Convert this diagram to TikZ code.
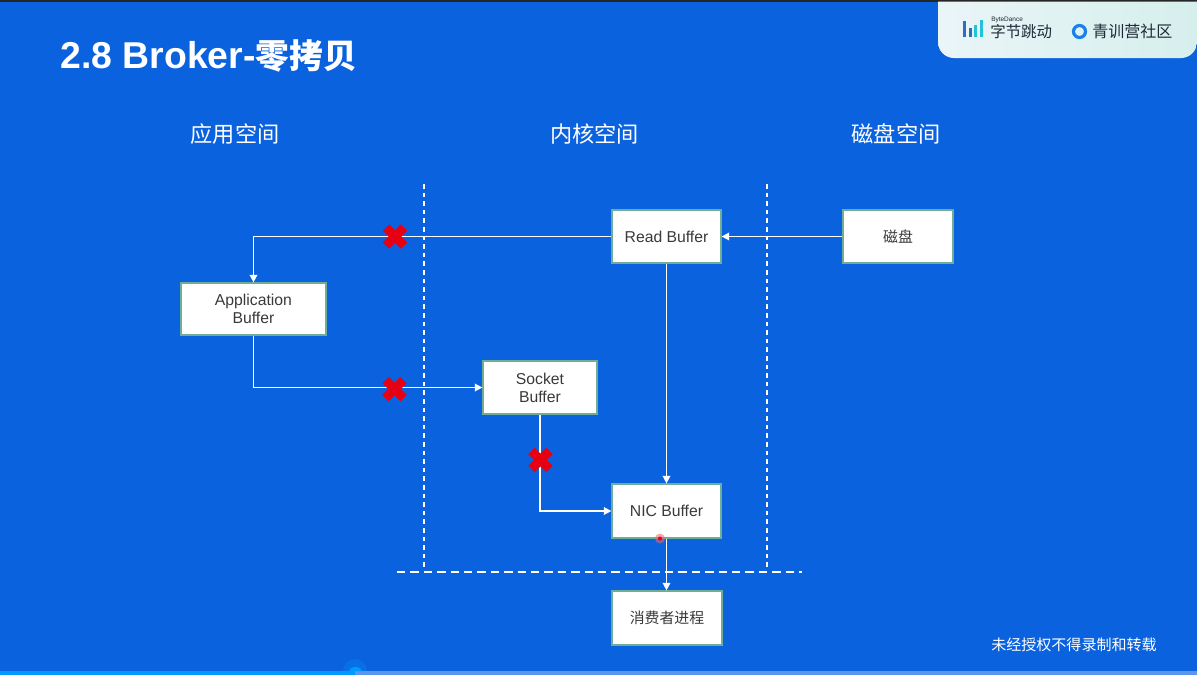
\documentclass[tikz,border=0pt]{standalone}
\usepackage{fontspec}
\setmainfont{Liberation Sans}
\newfontfamily\cjk{Noto Sans CJK SC}
\usetikzlibrary{arrows.meta,positioning,shapes.misc}
\definecolor{bgblue}{HTML}{0B62DE}
\definecolor{ink}{HTML}{3A3A3A}
\definecolor{edge}{HTML}{6FAE94}
\definecolor{xred}{HTML}{E60012}
\definecolor{barcyan}{HTML}{0099FF}
\definecolor{barpale}{HTML}{5A96EA}
\definecolor{logoink}{HTML}{1F2A38}
\definecolor{logoblue}{HTML}{1D7FE8}
\definecolor{logobar}{HTML}{2C6FC0}
\definecolor{logocyan}{HTML}{22C3D6}
\definecolor{panela}{HTML}{EAF5F8}
\definecolor{panelb}{HTML}{D6EFEC}
\tikzset{
  >={Triangle[length=1.9mm,width=1.9mm]},
  bx/.style={draw=edge,fill=white,line width=0.3mm,align=center,inner sep=0pt,text=ink,
    font=\fontsize{11.2}{12.9}\selectfont},
  bxc/.style={bx,font=\fontsize{10.6}{12.9}\selectfont\cjk},
  arr/.style={->,draw=white,line width=0.38mm},
  split/.style={draw=white,line width=0.28mm,dash pattern=on 1.15mm off 1mm},
  splith/.style={draw=white,line width=0.28mm,dash pattern=on 2.1mm off 1.25mm},
  head/.style={text=white,font=\fontsize{15.8}{18}\selectfont\cjk},
  xmark/.style={cross out,draw=xred,line width=2.25mm,minimum size=4.5mm,inner sep=0pt,outer sep=0pt},
  logo/.style={text=logoink,inner sep=0pt},
}

\begin{document}
\begin{tikzpicture}[x=0.25mm,y=-0.25mm]
  \fill[bgblue] (0,0) rectangle (1197,675);
  \fill[black!85] (0,0) rectangle (1197,1.5);
  % logo panel
  \shade[left color=panela,right color=panelb,rounded corners=4mm] (938,1.5) -- (938,58) -- (1197,58) [sharp corners] -- (1197,1.5) -- cycle;
  \foreach \x/\t/\c in {963/21/logobar,969/28/logobar,974/25/logocyan,980/20/logocyan}
    \fill[\c] (\x,\t) rectangle (\x+3,37);
  \node[logo,anchor=west,font=\fontsize{4.6}{5}\selectfont] (bytename) at (991,19.5) {ByteDance};
  \node[logo,anchor=west,font=\fontsize{11}{12}\selectfont\cjk] (bytelogo) at (990,31.5) {字节跳动};
  \draw[logoblue,line width=0.8mm] (1079.5,31.5) circle (6);
  \node[logo,anchor=west,font=\fontsize{11.4}{12}\selectfont\cjk] (camplogo) at (1092,31.5) {青训营社区};
  % title
  \node[anchor=west,text=white,inner sep=0pt,font=\fontsize{26.6}{28}\selectfont\bfseries] (title) at (60,56) {2.8 Broker-{\fontsize{24}{28}\selectfont\cjk\bfseries 零拷贝}};
  \node[head] (apphead) at (235,134) {应用空间};
  \node[head] (kernhead) at (594.5,134) {内核空间};
  \node[head] (diskhead) at (896,134) {磁盘空间};
  % dashed separators
  \coordinate (sepa1) at (424,184); \coordinate (sepa2) at (424,568);
  \coordinate (sepb1) at (767,184); \coordinate (sepb2) at (767,568);
  \coordinate (seph1) at (397,572); \coordinate (seph2) at (802,572);
  \draw[split] (sepa1) -- (sepa2);
  \draw[split] (sepb1) -- (sepb2);
  \draw[splith] (seph1) -- (seph2);
  % boxes
  \node[bx,minimum width=27.25mm,minimum height=13.25mm] (readbuf) at (666.5,236.5) {Read Buffer};
  \node[bxc,minimum width=27.5mm,minimum height=13.25mm] (disk) at (898,236.5) {磁盘};
  \node[bx,minimum width=36.25mm,minimum height=13mm] (appbuf) at (253.5,309) {Application\\Buffer};
  \node[bx,minimum width=28.5mm,minimum height=13.25mm] (sockbuf) at (540,387.5) {Socket\\Buffer};
  \node[bx,minimum width=27.25mm,minimum height=13.5mm] (nicbuf) at (666.5,511) {NIC Buffer};
  \node[bxc,minimum width=27.5mm,minimum height=13.5mm] (consumer) at (667,618) {消费者进程};
  % connectors
  \draw[arr] (disk) -- (readbuf);
  \draw[arr] (readbuf.west) -| (appbuf.north);
  \draw[arr] (appbuf.south) |- (sockbuf.west);
  \draw[arr] (readbuf) -- (nicbuf);
  \draw[arr] (sockbuf.south) |- (nicbuf.west);
  \draw[arr] (nicbuf) -- (nicbuf |- consumer.north);
  % blocked paths
  \node[xmark] (blocka) at (395,236.5) {};
  \node[xmark] (blockb) at (394.5,389) {};
  \node[xmark] (blockc) at (540.5,460) {};
  % pointer dot
  \fill[xred!60!white,opacity=0.55] (660,538.5) circle (5);
  \fill[xred] (660,538.5) circle (2);
  % footer
  \node[anchor=east,text=white,inner sep=0pt,font=\fontsize{10.7}{12}\selectfont\cjk] (notice) at (1157,644.5) {未经授权不得录制和转载};
  \fill[barcyan!25!bgblue] (343,671) arc[start angle=180,end angle=0,radius=3mm] -- cycle;
  \fill[barpale] (0,671) rectangle (1197,675);
  \fill[barcyan] (0,671) rectangle (355,675);
  \fill[barcyan] (349,671) arc[start angle=180,end angle=0,x radius=1.6mm,y radius=1mm] -- cycle;
\end{tikzpicture}
\end{document}
